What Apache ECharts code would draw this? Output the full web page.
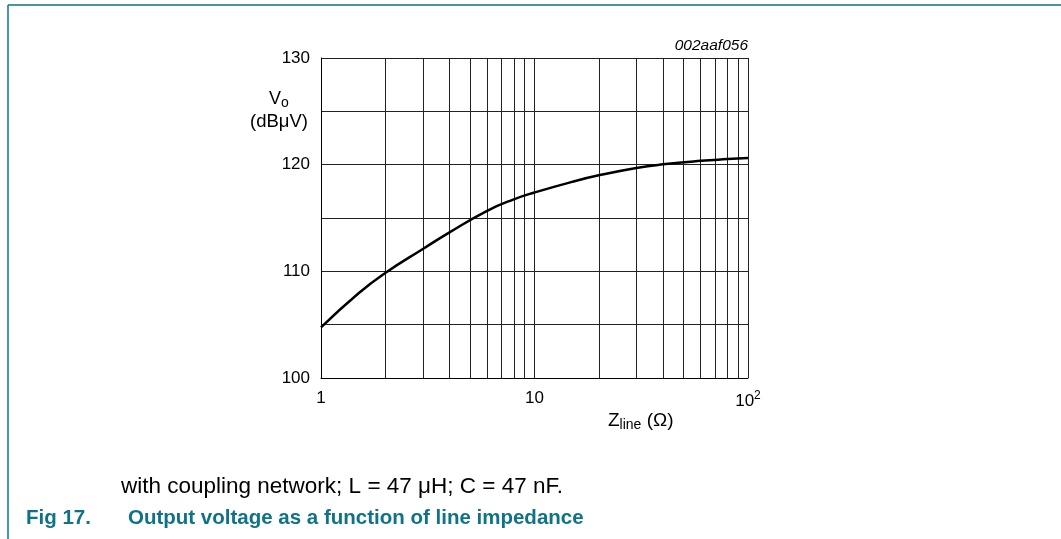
<!DOCTYPE html>
<html>
<head>
<meta charset="utf-8">
<script src="https://cdn.jsdelivr.net/npm/echarts@6/dist/echarts.min.js"></script>
<style>
  html, body { margin: 0; padding: 0; background: #fff; }
  #chart { width: 1061px; height: 539px; }
</style>
</head>
<body>
<div id="chart"></div>
<script>
// line impedance (ohm) and output voltage (dBuV)
const zLine = [1, 1.5, 2, 3, 4, 6, 8, 10, 15, 20, 30, 40, 60, 80, 100];
const vOut = [104.75, 107.95, 109.85, 112.1, 113.65, 115.67, 116.75, 117.39, 118.39, 119.0, 119.69, 120.03, 120.36, 120.52, 120.62];
// minor vertical grid lines of the log axis
const xMinorGrid = [2, 3, 4, 5, 6, 7, 8, 9, 20, 30, 40, 50, 60, 70, 80, 90];
const yTickLabels = { 100: '100', 110: '110', 120: '120', 130: '130' };
const xTickLabels = { 1: '1', 10: '10', 100: '10{sup|2}' };

const font = 'Liberation Sans, Arial, sans-serif';
const teal = '#0e7386';
const gridColor = '#222';

const chart = echarts.init(document.getElementById('chart'));

const option = {
  animation: false,
  grid: { left: 321, top: 58, width: 427, height: 320 },
  xAxis: {
    type: 'log',
    logBase: 10,
    min: 1,
    max: 100,
    axisLine: { show: true, lineStyle: { color: '#000', width: 1 } },
    axisTick: { show: false },
    splitLine: { show: true, lineStyle: { color: gridColor, width: 1 } },
    axisLabel: {
      margin: 12,
      fontFamily: font,
      fontSize: 17,
      color: '#000',
      formatter: v => xTickLabels[Math.round(v)] || '',
      rich: {
        sup: { fontFamily: font, fontSize: 12, color: '#000', padding: [0, 0, 10, 0] }
      }
    }
  },
  yAxis: {
    type: 'value',
    min: 100,
    max: 130,
    interval: 5,
    axisLine: { show: true, lineStyle: { color: '#000', width: 1 } },
    axisTick: { show: false },
    splitLine: { show: true, lineStyle: { color: gridColor, width: 1 } },
    axisLabel: {
      margin: 11,
      fontFamily: font,
      fontSize: 17,
      color: '#000',
      formatter: v => yTickLabels[v] || ''
    }
  },
  series: [
    {
      type: 'line',
      data: zLine.map((z, i) => [z, vOut[i]]),
      smooth: 0.5,
      symbol: 'none',
      lineStyle: { color: '#000', width: 2.5 },
      z: 5,
      markLine: {
        silent: true,
        symbol: 'none',
        label: { show: false },
        lineStyle: { color: gridColor, width: 1, type: 'solid' },
        data: xMinorGrid.map(v => ({ xAxis: v }))
      }
    }
  ],
  graphic: [
    // page frame lines
    { type: 'line', shape: { x1: 8, y1: 5, x2: 1061, y2: 5 }, style: { stroke: teal, lineWidth: 1.5 } },
    { type: 'line', shape: { x1: 8, y1: 5, x2: 8, y2: 539 }, style: { stroke: teal, lineWidth: 1.5 } },
    {
      type: 'text', right: 1061 - 748, top: 38,
      style: { text: '002aaf056', font: 'italic 15.5px ' + font, fill: '#000' }
    },
    {
      type: 'text', x: 279, y: 99,
      style: {
        text: 'V{sub|o}', fill: '#000', align: 'center', verticalAlign: 'middle',
        font: '18px ' + font,
        rich: { sub: { fontFamily: font, fontSize: 14, padding: [9, 0, 0, 0] } }
      }
    },
    {
      type: 'text', x: 279, y: 122,
      style: { text: '(dBμV)', font: '18.5px ' + font, fill: '#000', align: 'center', verticalAlign: 'middle' }
    },
    {
      type: 'text', x: 608, y: 421,
      style: {
        text: 'Z{sub|line} (Ω)', fill: '#000', verticalAlign: 'middle',
        font: '19px ' + font,
        rich: { sub: { fontFamily: font, fontSize: 14, padding: [9, 0, 0, 0] } }
      }
    },
    {
      type: 'text', x: 121, y: 487,
      style: { text: 'with coupling network; L = 47 μH; C = 47 nF.', font: '22.5px ' + font, fill: '#000', verticalAlign: 'middle' }
    },
    {
      type: 'text', x: 26, y: 518,
      style: { text: 'Fig 17.', font: 'bold 20.5px ' + font, fill: teal, verticalAlign: 'middle' }
    },
    {
      type: 'text', x: 128, y: 518,
      style: { text: 'Output voltage as a function of line impedance', font: 'bold 20.5px ' + font, fill: teal, verticalAlign: 'middle' }
    }
  ]
};

chart.setOption(option);
</script>
</body>
</html>
